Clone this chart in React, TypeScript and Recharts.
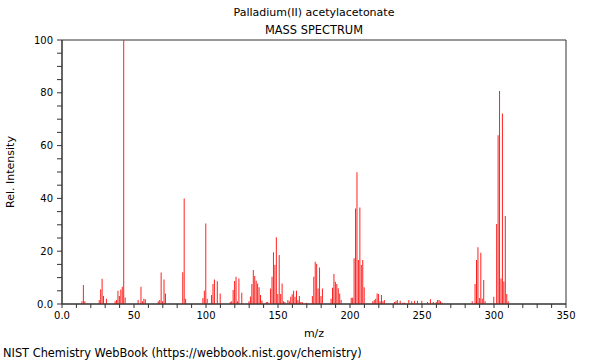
import React from 'react';
import { ComposedChart, Bar, XAxis, YAxis, ReferenceArea } from 'recharts';

const mzValues = [
  14, 15, 16, 26, 27, 28, 29, 31, 37, 38, 39, 40, 41, 42, 43, 44,
  53, 55, 56, 57, 58, 67, 68, 69, 70, 71, 72, 84, 85, 86,
  98, 99, 100, 101, 104, 105, 106, 108, 110,
  117, 118, 119, 120, 121, 122, 123, 125,
  130, 131, 132, 133, 134, 135, 136, 137, 138, 139, 142, 143,
  145, 146, 147, 148, 149, 150, 151, 152, 153, 154, 155,
  157, 158, 159, 160, 161, 162, 163, 164, 165, 166, 167, 170,
  174, 175, 176, 177, 178, 179, 180, 181,
  187, 188, 189, 190, 191, 192, 193, 194,
  201, 202, 203, 204, 205, 206, 207, 208, 209, 210,
  216, 217, 218, 219, 220, 221, 222, 223, 224,
  231, 232, 233, 235, 237, 238, 241, 243, 245, 247, 250, 254, 256, 258, 260, 261, 262, 263, 264,
  285, 287, 288, 289, 290, 291, 292, 293, 294,
  300, 302, 303, 304, 305, 306, 307, 308, 309, 310,
];

const intensities = [
  1, 7.2, 1, 1.5, 5.6, 9.6, 3, 2, 1, 1.5, 5, 3, 5.5, 6.5, 100, 2.5,
  1.5, 6.5, 1, 2, 1.8, 1, 1.5, 11.9, 1, 9.3, 4, 12, 40, 2,
  2.3, 5, 30.5, 2, 3.4, 7.6, 9.3, 8.6, 4,
  0.8, 1, 5.3, 8.7, 10.3, 1, 9.7, 4.3,
  1, 2.8, 7.6, 12.9, 10.6, 8.8, 7.8, 6.3, 3.4, 1.3, 0.8, 0.8,
  5.9, 10.3, 19.6, 14.8, 25.3, 3.8, 18.6, 3.8, 7.8, 1, 0.8,
  1.5, 1, 2.7, 3.7, 5, 2.7, 5, 1.4, 3, 0.8, 0.8, 0.5,
  3, 10.3, 16, 15.2, 5.9, 13.8, 3, 5.9,
  2, 6.2, 11.4, 8.4, 7.6, 6, 4, 1.5,
  2.4, 2.4, 17.3, 36.2, 49.9, 16.7, 36.6, 14.8, 16.7, 6.3,
  1, 1.5, 2, 4, 3.8, 1, 3.4, 1, 1.5,
  0.8, 1, 1.5, 1.2, 0.5, 0.5, 1.5, 1, 1.2, 1.2, 1.2, 0.8, 1.8, 0.8, 0.8, 1.5, 1.5, 1, 0.6,
  1, 7.6, 16.7, 21.5, 2.3, 19.4, 2, 9.1, 1,
  2.7, 30.3, 63.9, 80.7, 9.7, 72.2, 8.5, 33.3, 3.8, 1,
];

const xTicks = [0, 10, 20, 30, 40, 50, 60, 70, 80, 90, 100, 110, 120, 130, 140, 150, 160, 170, 180, 190, 200, 210, 220, 230, 240, 250, 260, 270, 280, 290, 300, 310, 320, 330, 340, 350];
const xLabelTicks = [0, 50, 100, 150, 200, 250, 300, 350];
const yTicks = [0, 5, 10, 15, 20, 25, 30, 35, 40, 45, 50, 55, 60, 65, 70, 75, 80, 85, 90, 95, 100];
const yLabelTicks = [0, 20, 40, 60, 80, 100];

const title = 'Palladium(II) acetylacetonate';
const subtitle = 'MASS SPECTRUM';
const xLabel = 'm/z';
const yLabel = 'Rel. Intensity';
const footer = 'NIST Chemistry WebBook (https://webbook.nist.gov/chemistry)';

const data = mzValues.map((mz, i) => ({ mz, intensity: intensities[i] }));

const fmtX = (v: number) => (xLabelTicks.includes(v) ? (v === 0 ? '0.0' : String(v)) : '');
const fmtY = (v: number) => (yLabelTicks.includes(v) ? (v === 0 ? '0.0' : String(v)) : '');

const FONT = '"DejaVu Sans", sans-serif';
const AXIS = '#333';

export default function App() {
  return (
    <div style={{ position: 'absolute', left: 0, top: 0, width: 600, height: 360, background: '#fff', fontFamily: FONT, color: '#000' }}>
      <div style={{ position: 'absolute', left: 0, width: 628, top: 6, textAlign: 'center', fontSize: 11, lineHeight: '14px', whiteSpace: 'nowrap' }}>{title}</div>
      <div style={{ position: 'absolute', left: 0, width: 628, top: 23, textAlign: 'center', fontSize: 11.4, lineHeight: '14px', whiteSpace: 'nowrap' }}>{subtitle}</div>
      <ComposedChart width={600} height={360} data={data} margin={{ top: 40, right: 34, bottom: 0, left: 0 }} style={{ fontFamily: FONT }}>
        <XAxis
          dataKey="mz"
          type="number"
          domain={[0, 350]}
          ticks={xTicks}
          interval={0}
          tickFormatter={fmtX}
          height={56}
          tickSize={4}
          tickMargin={4}
          stroke={AXIS}
          tick={{ fill: '#000', fontSize: 10 }}
          allowDataOverflow
        />
        <YAxis
          type="number"
          domain={[0, 100]}
          ticks={yTicks}
          interval={0}
          tickFormatter={fmtY}
          width={62}
          tickSize={5}
          tickMargin={4}
          stroke={AXIS}
          tick={{ fill: '#000', fontSize: 10 }}
          allowDataOverflow
        />
        <ReferenceArea x1={0} x2={350} y1={0} y2={100} fill="none" fillOpacity={0} stroke={AXIS} strokeWidth={1} ifOverflow="visible" />
        <Bar dataKey="intensity" fill="#ff2020" barSize={1} isAnimationActive={false} />
      </ComposedChart>
      <div style={{ position: 'absolute', left: 264, width: 100, top: 327, textAlign: 'center', fontSize: 11, lineHeight: '14px' }}>{xLabel}</div>
      <div style={{ position: 'absolute', left: 11 - 60, top: 172 - 7, width: 120, textAlign: 'center', fontSize: 11, lineHeight: '14px', transform: 'rotate(-90deg)' }}>{yLabel}</div>
      <div style={{ position: 'absolute', left: 3, top: 346, fontSize: 11.4, lineHeight: '14px', whiteSpace: 'nowrap' }}>{footer}</div>
    </div>
  );
}
